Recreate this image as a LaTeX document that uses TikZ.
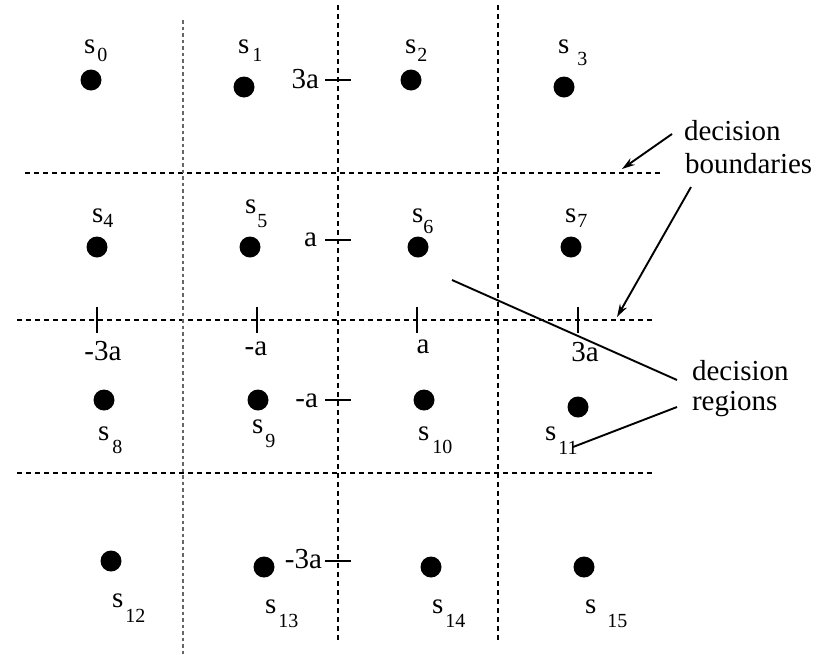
\documentclass[tikz,border=0pt]{standalone}
\usepackage{fontspec}
\setmainfont{Liberation Serif}
\usetikzlibrary{arrows.meta}
\newcommand{\sublab}[3]{s\hspace{#1pt}\raisebox{-#2pt}{\fontsize{20}{20}\selectfont #3}}
\begin{document}
\begin{tikzpicture}[x=1pt,y=-1pt,
  txt/.style={font=\fontsize{29}{30}\selectfont, inner sep=0pt, outer sep=0pt},
  dot/.style={circle, fill=black, minimum size=21pt, inner sep=0pt},
  bnd/.style={dash pattern=on 5pt off 4pt, line width=1.4pt},
  bndgray/.style={dash pattern=on 3.5pt off 3pt, line width=2.2pt, black!60},
  tickmark/.style={line width=1.5pt},
  ptr/.style={line width=1.9pt},
  arr/.style={ptr, -{Stealth[length=13pt,width=8pt]}}]
\useasboundingbox (0,0) rectangle (825,654);

% decision boundaries
\coordinate (h1a) at (25,173);  \coordinate (h1b) at (660,173);
\coordinate (h2a) at (17,320);  \coordinate (h2b) at (653,320);
\coordinate (h3a) at (17,473);  \coordinate (h3b) at (653,473);
\coordinate (v1a) at (183,20);  \coordinate (v1b) at (183,654);
\coordinate (v2a) at (338,5);   \coordinate (v2b) at (338,642);
\coordinate (v3a) at (498,5);   \coordinate (v3b) at (498,642);
\draw[bnd] (h1a) -- (h1b);
\draw[bnd] (h2a) -- (h2b);
\draw[bnd] (h3a) -- (h3b);
\draw[bndgray] (v1a) -- (v1b);
\draw[bnd] (v2a) -- (v2b);
\draw[bnd] (v3a) -- (v3b);

% ticks on vertical axis
\foreach \n/\y in {t3/80, t1/240, tm1/400, tm3/561}{
  \coordinate (\n a) at (325,\y); \coordinate (\n b) at (351,\y);
  \draw[tickmark] (\n a) -- (\n b);
}
% ticks on horizontal axis
\foreach \n/\x in {u3/97, u1/257, up1/417, up3/578}{
  \coordinate (\n a) at (\x,307); \coordinate (\n b) at (\x,333);
  \draw[tickmark] (\n a) -- (\n b);
}

% tick labels
\node[txt, anchor=base east] (y3)  at (319,88)  {3a};
\node[txt, anchor=base east] (y1)  at (317,246) {a};
\node[txt, anchor=base east] (ym1) at (318,407) {-a};
\node[txt, anchor=base east] (ym3) at (322,568) {-3a};
\node[txt, anchor=base] (xm3) at (103,360) {-3a};
\node[txt, anchor=base] (xm1) at (256,355) {-a};
\node[txt, anchor=base] (xp1) at (423,353) {a};
\node[txt, anchor=base] (xp3) at (585,361) {3a};

% signal points
\node[dot] (d0)  at (91,80)   {};
\node[dot] (d1)  at (244,87)  {};
\node[dot] (d2)  at (411,80)  {};
\node[dot] (d3)  at (564,87)  {};
\node[dot] (d4)  at (97,247)  {};
\node[dot] (d5)  at (250,247) {};
\node[dot] (d6)  at (418,247) {};
\node[dot] (d7)  at (571,247) {};
\node[dot] (d8)  at (104,400) {};
\node[dot] (d9)  at (258,400) {};
\node[dot] (d10) at (424,400) {};
\node[dot] (d11) at (578,407) {};
\node[dot] (d12) at (111,561) {};
\node[dot] (d13) at (264,567) {};
\node[dot] (d14) at (431,567) {};
\node[dot] (d15) at (584,567) {};

% point labels
\node[txt, anchor=base west] (l0)  at (84,53)   {\sublab{2}{8}{0}};
\node[txt, anchor=base west] (l1)  at (238,53)  {\sublab{3}{8}{1}};
\node[txt, anchor=base west] (l2)  at (405,53)  {\sublab{1}{8}{2}};
\node[txt, anchor=base west] (l3)  at (558,53)  {\sublab{8}{12}{3}};
\node[txt, anchor=base west] (l4)  at (92,222)  {\sublab{0}{5}{4}};
\node[txt, anchor=base west] (l5)  at (245,213) {\sublab{1}{14}{5}};
\node[txt, anchor=base west] (l6)  at (412,222) {\sublab{0}{11}{6}};
\node[txt, anchor=base west] (l7)  at (565,222) {\sublab{1}{5}{7}};
\node[txt, anchor=base west] (l8)  at (98,440)  {\sublab{3}{13}{8}};
\node[txt, anchor=base west] (l9)  at (252,433) {\sublab{2}{14}{9}};
\node[txt, anchor=base west] (l10) at (418,440) {\sublab{3}{13}{10}};
\node[txt, anchor=base west] (l11) at (545,440) {\sublab{2}{14}{11}};
\node[txt, anchor=base west] (l12) at (112,607) {\sublab{2}{15}{12}};
\node[txt, anchor=base west] (l13) at (265,613) {\sublab{2}{14}{13}};
\node[txt, anchor=base west] (l14) at (432,613) {\sublab{2}{14}{14}};
\node[txt, anchor=base west] (l15) at (585,613) {\sublab{11}{14}{15}};

% annotations
\node[txt, anchor=base west] (db1) at (684,140) {decision};
\node[txt, anchor=base west] (db2) at (685,173) {boundaries};
\node[txt, anchor=base west] (dr1) at (692,380) {decision};
\node[txt, anchor=base west] (dr2) at (692,410) {regions};

\coordinate (a1s) at (672,134); \coordinate (a1e) at (622,169);
\coordinate (a2s) at (691,187); \coordinate (a2e) at (617,317);
\draw[arr] (a1s) -- (a1e);
\draw[arr] (a2s) -- (a2e);

\coordinate (r1s) at (677,380); \coordinate (r1e) at (452,280);
\coordinate (r2s) at (677,407); \coordinate (r2e) at (573,447);
\draw[ptr] (r1s) -- (r1e);
\draw[ptr] (r2s) -- (r2e);
\end{tikzpicture}
\end{document}
